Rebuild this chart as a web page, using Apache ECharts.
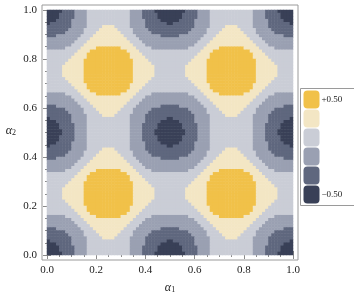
<!DOCTYPE html>
<html><head><meta charset="utf-8">
<script src="https://cdn.jsdelivr.net/npm/echarts@6/dist/echarts.min.js"></script>
<style>html,body{margin:0;padding:0;background:#fff}#c{width:354px;height:301px}</style>
</head><body><div id="c"></div>
<script>
// Contour band of each cell (0 = lowest band, 5 = highest band).
// Rows listed from top (α2 = 1) to bottom (α2 = 0); columns from α1 = 0 to α1 = 1.
const LEVEL_ROWS = [
"00000111122223333333333333322221111000000000011112222333333333333332222111100000",
"00001111122223333333333333322221111100000000111112222333333333333332222111110000",
"00001111122223333333333333322221111100000000111112222333333333333332222111110000",
"00011111222223333333333333322222111110000001111122222333333333333332222211111000",
"01111111222223333333333333322222111111100111111122222333333333333332222211111110",
"11111111222223333344443333322222111111111111111122222333334444333332222211111111",
"11111112222233333444444333332222211111111111111222223333344444433333222221111111",
"11111122222233334444444433332222221111111111112222223333444444443333222222111111",
"11122222222333344444444443333222222221111112222222233334444444444333322222222111",
"22222222223333444444444444333322222222222222222222333344444444444433332222222222",
"22222222233334444444444444433332222222222222222223333444444444444443333222222222",
"22222222333344444444444444443333222222222222222233334444444444444444333322222222",
"22222233333444445555555544444333332222222222223333344444555555554444433333222222",
"33333333334444555555555555444433333333333333333333444455555555555544443333333333",
"33333333344445555555555555544443333333333333333334444555555555555554444333333333",
"33333333444445555555555555544444333333333333333344444555555555555554444433333333",
"33333334444455555555555555554444433333333333333444445555555555555555444443333333",
"33333344444455555555555555554444443333333333334444445555555555555555444444333333",
"33333444444455555555555555554444444333333333344444445555555555555555444444433333",
"33333444444455555555555555554444444333333333344444445555555555555555444444433333",
"33333444444455555555555555554444444333333333344444445555555555555555444444433333",
"33333444444455555555555555554444444333333333344444445555555555555555444444433333",
"33333344444455555555555555554444443333333333334444445555555555555555444444333333",
"33333334444455555555555555554444433333333333333444445555555555555555444443333333",
"33333333444445555555555555544444333333333333333344444555555555555554444433333333",
"33333333344445555555555555544443333333333333333334444555555555555554444333333333",
"33333333334444555555555555444433333333333333333333444455555555555544443333333333",
"22222233333444445555555544444333332222222222223333344444555555554444433333222222",
"22222222333344444444444444443333222222222222222233334444444444444444333322222222",
"22222222233334444444444444433332222222222222222223333444444444444443333222222222",
"22222222223333444444444444333322222222222222222222333344444444444433332222222222",
"11122222222333344444444443333222222221111112222222233334444444444333322222222111",
"11111122222233334444444433332222221111111111112222223333444444443333222222111111",
"11111112222233333444444333332222211111111111111222223333344444433333222221111111",
"11111111222223333344443333322222111111111111111122222333334444333332222211111111",
"01111111222223333333333333322222111111100111111122222333333333333332222211111110",
"00011111222223333333333333322222111110000001111122222333333333333332222211111000",
"00001111122223333333333333322221111100000000111112222333333333333332222111110000",
"00001111122223333333333333322221111100000000111112222333333333333332222111110000",
"00000111122223333333333333322221111000000000011112222333333333333332222111100000",
"00000111122223333333333333322221111000000000011112222333333333333332222111100000",
"00001111122223333333333333322221111100000000111112222333333333333332222111110000",
"00001111122223333333333333322221111100000000111112222333333333333332222111110000",
"00011111222223333333333333322222111110000001111122222333333333333332222211111000",
"01111111222223333333333333322222111111100111111122222333333333333332222211111110",
"11111111222223333344443333322222111111111111111122222333334444333332222211111111",
"11111112222233333444444333332222211111111111111222223333344444433333222221111111",
"11111122222233334444444433332222221111111111112222223333444444443333222222111111",
"11122222222333344444444443333222222221111112222222233334444444444333322222222111",
"22222222223333444444444444333322222222222222222222333344444444444433332222222222",
"22222222233334444444444444433332222222222222222223333444444444444443333222222222",
"22222222333344444444444444443333222222222222222233334444444444444444333322222222",
"22222233333444445555555544444333332222222222223333344444555555554444433333222222",
"33333333334444555555555555444433333333333333333333444455555555555544443333333333",
"33333333344445555555555555544443333333333333333334444555555555555554444333333333",
"33333333444445555555555555544444333333333333333344444555555555555554444433333333",
"33333334444455555555555555554444433333333333333444445555555555555555444443333333",
"33333344444455555555555555554444443333333333334444445555555555555555444444333333",
"33333444444455555555555555554444444333333333344444445555555555555555444444433333",
"33333444444455555555555555554444444333333333344444445555555555555555444444433333",
"33333444444455555555555555554444444333333333344444445555555555555555444444433333",
"33333444444455555555555555554444444333333333344444445555555555555555444444433333",
"33333344444455555555555555554444443333333333334444445555555555555555444444333333",
"33333334444455555555555555554444433333333333333444445555555555555555444443333333",
"33333333444445555555555555544444333333333333333344444555555555555554444433333333",
"33333333344445555555555555544443333333333333333334444555555555555554444333333333",
"33333333334444555555555555444433333333333333333333444455555555555544443333333333",
"22222233333444445555555544444333332222222222223333344444555555554444433333222222",
"22222222333344444444444444443333222222222222222233334444444444444444333322222222",
"22222222233334444444444444433332222222222222222223333444444444444443333222222222",
"22222222223333444444444444333322222222222222222222333344444444444433332222222222",
"11122222222333344444444443333222222221111112222222233334444444444333322222222111",
"11111122222233334444444433332222221111111111112222223333444444443333222222111111",
"11111112222233333444444333332222211111111111111222223333344444433333222221111111",
"11111111222223333344443333322222111111111111111122222333334444333332222211111111",
"01111111222223333333333333322222111111100111111122222333333333333332222211111110",
"00011111222223333333333333322222111110000001111122222333333333333332222211111000",
"00001111122223333333333333322221111100000000111112222333333333333332222111110000",
"00001111122223333333333333322221111100000000111112222333333333333332222111110000",
"00000111122223333333333333322221111000000000011112222333333333333332222111100000"
];
const LEVEL_COLORS = ['#394057', '#5f677e', '#9aa0b2', '#cacdd6', '#f3e6c4', '#f1c149'];
const LEVEL_LABELS = ['\u22120.50', ' ', ' ', ' ', ' ', '+0.50'];
const TICK_LABELS = ['0.0', '0.2', '0.4', '0.6', '0.8', '1.0'];

const nRows = LEVEL_ROWS.length, nCols = LEVEL_ROWS[0].length;
const xCats = Array.from({length: nCols}, (_, i) => i);
const yCats = Array.from({length: nRows}, (_, i) => i);
const cells = [];
LEVEL_ROWS.forEach((row, r) => {
  for (let c = 0; c < nCols; c++) cells.push([c, nRows - 1 - r, Number(row[c])]);
});

const serif = 'Liberation Serif';
const tickFmt = v => TICK_LABELS[Math.round(v / 0.2)];
const axisCommon = {
  type: 'value', min: 0, max: 1, interval: 0.2, gridIndex: 0, offset: 5,
  axisLine: {show: false},
  axisTick: {show: true, inside: true, length: 4, lineStyle: {color: '#8a8a8a', width: 1}},
  minorTick: {show: true, splitNumber: 4, length: 2, lineStyle: {color: '#8a8a8a', width: 1}},
  splitLine: {show: false}, minorSplitLine: {show: false}
};
const nameRich = {
  a: {fontFamily: serif, fontStyle: 'italic', fontSize: 12, color: '#222', padding: [0, 0, 3, 0]},
  s: {fontFamily: serif, fontSize: 8, color: '#222'}
};

const chart = echarts.init(document.getElementById('c'), null, {renderer: 'canvas'});
chart.setOption({
  animation: false,
  backgroundColor: '#fff',
  grid: [
    {left: 47, top: 10, width: 246, height: 245, show: false},
    {left: 42, top: 5, width: 256, height: 255, show: true, borderColor: '#9a9a9a', borderWidth: 1, backgroundColor: 'transparent'}
  ],
  xAxis: [
    Object.assign({}, axisCommon, {
      position: 'bottom',
      axisLabel: {show: true, formatter: tickFmt, fontFamily: serif, fontSize: 11, color: '#222', margin: 5},
      name: '{a|α}{s|1}', nameLocation: 'middle', nameGap: 22, nameTextStyle: {rich: nameRich}
    }),
    Object.assign({}, axisCommon, {position: 'top', axisLabel: {show: false}}),
    {type: 'category', data: xCats, gridIndex: 0, show: false, boundaryGap: true},
    {type: 'value', gridIndex: 1, show: false, min: 0, max: 1}
  ],
  yAxis: [
    Object.assign({}, axisCommon, {
      position: 'left',
      axisLabel: {show: true, formatter: tickFmt, fontFamily: serif, fontSize: 11, color: '#222', margin: 5},
      name: '{a|α}{s|2}', nameLocation: 'middle', nameGap: 26, nameRotate: 0, nameTextStyle: {rich: nameRich}
    }),
    Object.assign({}, axisCommon, {position: 'right', axisLabel: {show: false}}),
    {type: 'category', data: yCats, gridIndex: 0, show: false, boundaryGap: true},
    {type: 'value', gridIndex: 1, show: false, min: 0, max: 1}
  ],
  visualMap: {
    type: 'piecewise',
    seriesIndex: 0,
    dimension: 2,
    orient: 'vertical',
    align: 'left',
    left: 300, top: 88,
    itemWidth: 16, itemHeight: 18, itemGap: 1, textGap: 2,
    selectedMode: false, hoverLink: false,
    pieces: LEVEL_COLORS.map((col, i) => ({value: i, label: LEVEL_LABELS[i], color: col})),
    textStyle: {fontFamily: serif, fontSize: 9, color: '#222'},
    borderColor: '#9a9a9a', borderWidth: 1, padding: [2, 14, 2, 3],
    backgroundColor: '#fff'
  },
  series: [{
    type: 'heatmap',
    xAxisIndex: 2, yAxisIndex: 2,
    data: cells,
    itemStyle: {borderWidth: 0},
    emphasis: {disabled: true},
    progressive: 0
  }]
});
</script>
</body></html>
